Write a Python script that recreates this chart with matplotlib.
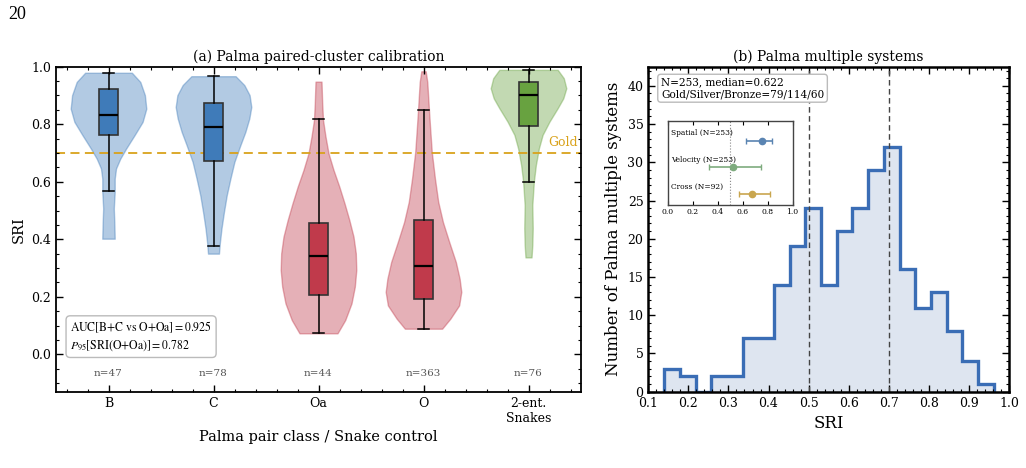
import numpy as np
import matplotlib
matplotlib.use('Agg')
import matplotlib.pyplot as plt
from matplotlib.ticker import MultipleLocator, AutoMinorLocator

plt.rcParams['font.family'] = 'DejaVu Serif'
plt.rcParams['mathtext.fontset'] = 'stix'
plt.rcParams['xtick.direction'] = 'in'
plt.rcParams['ytick.direction'] = 'in'
plt.rcParams['xtick.top'] = True
plt.rcParams['ytick.right'] = True

# ---- panel (a): paired-cluster classes ----
klasser = ['B', 'C', 'Oa', 'O', '2-ent.\nSnakes']
n_antall = [47, 78, 44, 363, 76]
boks_farger = ['#3f7bb9', '#3f7bb9', '#c03a4b', '#c03a4b', '#68a240']

# boks-statistikk lest av figuren
q1 = [0.764, 0.673, 0.205, 0.193, 0.795]
median = [0.831, 0.790, 0.343, 0.307, 0.902]
q3 = [0.922, 0.875, 0.458, 0.466, 0.946]
whis_lo = [0.567, 0.377, 0.073, 0.089, 0.600]
whis_hi = [0.979, 0.967, 0.818, 0.849, 0.989]

# fiolin-profiler (SRI, relativ halvbredde)
B_sri = [0.402, 0.460, 0.507, 0.565, 0.611, 0.646, 0.680, 0.715, 0.762, 0.808, 0.854, 0.901, 0.947, 0.979]
B_tett = [6.2, 5.8, 5.3, 6.2, 6.2, 7.5, 11.7, 17.5, 26, 34, 37.7, 36.3, 31.7, 23.3]
C_sri = [0.350, 0.385, 0.437, 0.495, 0.553, 0.611, 0.669, 0.727, 0.773, 0.820, 0.860, 0.901, 0.936, 0.967]
C_tett = [5.5, 6.3, 8, 10.5, 13.3, 17, 21, 27, 32, 36, 38, 36.3, 31, 22.2]
Oa_sri = [0.073, 0.119, 0.177, 0.235, 0.293, 0.351, 0.409, 0.467, 0.525, 0.583, 0.641, 0.699, 0.757, 0.815, 0.873, 0.948]
Oa_tett = [19, 26.7, 33, 36.3, 37.8, 37.3, 35, 30.8, 26, 20.8, 15, 10, 7, 4.5, 3.7, 3]
O_sri = [0.089, 0.124, 0.170, 0.217, 0.263, 0.321, 0.391, 0.460, 0.530, 0.611, 0.704, 0.785, 0.849, 0.947, 0.984]
O_tett = [18.7, 27, 35.8, 38, 36.3, 32.5, 25.8, 19.5, 14.8, 11.5, 8.3, 6.7, 5.5, 3.8, 2.2]
S_sri = [0.337, 0.380, 0.438, 0.519, 0.600, 0.658, 0.716, 0.763, 0.809, 0.856, 0.890, 0.925, 0.960, 0.989]
S_tett = [3, 3.8, 4.2, 3.8, 5.3, 7.3, 10.3, 14, 20.8, 29, 34.5, 37.5, 35, 29]

profiler = [(B_sri, B_tett), (C_sri, C_tett), (Oa_sri, Oa_tett), (O_sri, O_tett), (S_sri, S_tett)]

gull_grense = 0.7

# ---- panel (b): multiple systems ----
hist_antall = [3, 2, 0, 2, 2, 7, 7, 14, 19, 24, 14, 21, 24, 29, 32, 16, 11, 13, 8, 4, 1]
sri_min, sri_max = 0.1395, 0.962
kant = np.linspace(sri_min, sri_max, len(hist_antall) + 1)

innsett_navn = ['Spatial (N=253)', 'Velocity (N=253)', 'Cross (N=92)']
innsett_verdi = [0.755, 0.527, 0.678]
innsett_lo = [0.625, 0.335, 0.572]
innsett_hi = [0.838, 0.745, 0.822]
innsett_farger = ['#5a84b2', '#7eab7e', '#c9a64f']

fig = plt.figure(figsize=(10.26, 4.68), dpi=100)
ax1 = fig.add_axes([56 / 1026, 1 - 391.7 / 468, 525 / 1026, 325 / 468])
ax2 = fig.add_axes([648.3 / 1026, 1 - 391.7 / 468, 360.7 / 1026, 325 / 468])

fig.text(0.008, 0.988, '20', va='top', ha='left', fontsize=13, family='Liberation Serif')

# fioliner
posisjoner = np.arange(len(klasser))
vpstats = []
for sri, tett in profiler:
    vpstats.append({'coords': np.array(sri), 'vals': np.array(tett),
                    'mean': 0, 'median': 0, 'min': sri[0], 'max': sri[-1]})
fiol = ax1.violin(vpstats, positions=posisjoner, widths=0.72,
                  showmeans=False, showextrema=False, showmedians=False)
for body, farge in zip(fiol['bodies'], boks_farger):
    body.set_facecolor(farge)
    body.set_edgecolor(farge)
    body.set_alpha(0.4)
    body.set_linewidth(1.0)

bstats = []
for i in range(len(klasser)):
    bstats.append({'med': median[i], 'q1': q1[i], 'q3': q3[i],
                   'whislo': whis_lo[i], 'whishi': whis_hi[i], 'fliers': []})
bp = ax1.bxp(bstats, positions=posisjoner, widths=0.18, patch_artist=True,
             showfliers=False, capwidths=0.1,
             boxprops=dict(edgecolor='#333333', linewidth=1.2),
             medianprops=dict(color='black', linewidth=1.6),
             whiskerprops=dict(color='black', linewidth=1.1),
             capprops=dict(color='black', linewidth=1.1))
for boks, farge in zip(bp['boxes'], boks_farger):
    boks.set_facecolor(farge)

ax1.axhline(gull_grense, color='#d9a21b', ls='--', lw=1.3, dashes=(5, 3), zorder=1)
ax1.text(4.47, gull_grense + 0.015, 'Gold', color='#d9a21b', fontsize=9,
         ha='right', va='bottom')

for pos, n in zip(posisjoner, n_antall):
    ax1.text(pos, -0.065, f'n={n}', ha='center', va='center', fontsize=7.5, color='#555555')

ax1.text(0.027, 0.118,
         r'$\mathrm{AUC[B{+}C\ vs\ O{+}Oa]=0.925}$' + '\n' + r'$P_{95}\mathrm{[SRI(O{+}Oa)]=0.782}$',
         transform=ax1.transAxes, fontsize=8.5, va='bottom', ha='left', linespacing=1.4,
         bbox=dict(boxstyle='round,pad=0.35', fc='white', ec='#bbbbbb', lw=1))

ax1.set_xlim(-0.5, 4.5)
ax1.set_ylim(-0.13, 1.0)
ax1.set_xticks(posisjoner)
ax1.set_xticklabels(klasser, fontsize=9)
ax1.xaxis.set_minor_locator(MultipleLocator(0.2))
ax1.yaxis.set_major_locator(MultipleLocator(0.2))
ax1.yaxis.set_minor_locator(MultipleLocator(0.05))
ax1.set_yticks([0.0, 0.2, 0.4, 0.6, 0.8, 1.0])
ax1.tick_params(labelsize=9)
ax1.tick_params(which='major', length=5, width=1)
ax1.tick_params(which='minor', length=2.5, width=0.8)
ax1.set_ylabel('SRI', fontsize=10.5)
ax1.set_xlabel('Palma pair class / Snake control', fontsize=10.5)
ax1.set_title('(a) Palma paired-cluster calibration', fontsize=10, pad=4)
for s in ax1.spines.values():
    s.set_linewidth(1.3)

# histogram
ax2.stairs(hist_antall, kant, fill=True, color='#4a72b0', alpha=0.18)
ax2.stairs(hist_antall, kant, color='#3a6db5', lw=2.4)
for g in [0.5, 0.7]:
    ax2.axvline(g, color='#444444', ls='--', lw=1.0, dashes=(4, 2.5))
ax2.set_xlim(0.1, 1.0)
ax2.set_ylim(0, 42.5)
ax2.xaxis.set_major_locator(MultipleLocator(0.1))
ax2.xaxis.set_minor_locator(AutoMinorLocator(5))
ax2.yaxis.set_major_locator(MultipleLocator(5))
ax2.yaxis.set_minor_locator(AutoMinorLocator(5))
ax2.tick_params(labelsize=9)
ax2.tick_params(which='major', length=5, width=1)
ax2.tick_params(which='minor', length=2.5, width=0.8)
ax2.set_xlabel('SRI', fontsize=12)
ax2.set_ylabel('Number of Palma multiple systems', fontsize=12)
ax2.set_title('(b) Palma multiple systems', fontsize=10, pad=4)
for s in ax2.spines.values():
    s.set_linewidth(1.8)
ax2.text(0.035, 0.967, 'N=253, median=0.622\nGold/Silver/Bronze=79/114/60',
         transform=ax2.transAxes, fontsize=7.6, va='top', ha='left',
         bbox=dict(boxstyle='round,pad=0.3', fc='white', ec='#bbbbbb', lw=1))

# innsatt figur
ax3 = fig.add_axes([667.5 / 1026, 1 - 205 / 468, 125 / 1026, 84 / 468])
rader = np.arange(len(innsett_navn))[::-1]
for y, navn, v, lo, hi, farge in zip(rader, innsett_navn, innsett_verdi,
                                     innsett_lo, innsett_hi, innsett_farger):
    ax3.errorbar(v, y, xerr=[[v - lo], [hi - v]], fmt='o', color=farge,
                 ms=4.5, capsize=2.5, lw=1.2)
    ax3.text(0.03, y + 0.28, navn, fontsize=5.4, va='center', ha='left')
ax3.axvline(0.5, color='#888888', ls=':', lw=0.8)
ax3.set_xlim(0, 1)
ax3.set_ylim(-0.41, 2.74)
ax3.set_yticks([])
ax3.set_xticks([0, 0.2, 0.4, 0.6, 0.8, 1.0])
ax3.tick_params(labelsize=5.5, length=3, pad=2)
ax3.tick_params(axis='y', which='both', left=False, right=False)
for s in ax3.spines.values():
    s.set_linewidth(1.0)
    s.set_color('#444444')

fig.savefig('out.png', dpi=100)
